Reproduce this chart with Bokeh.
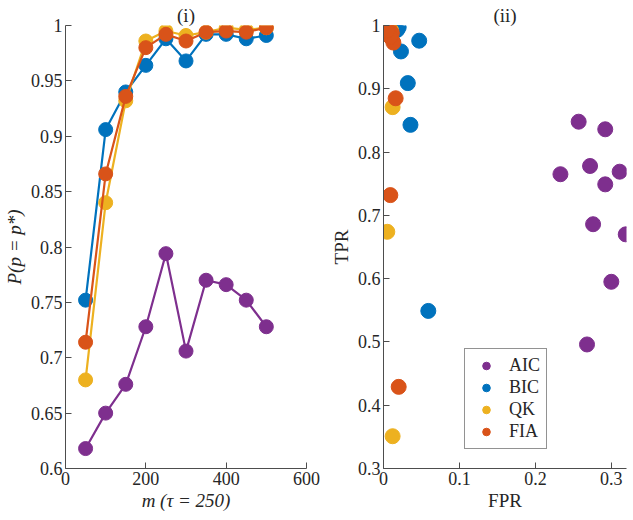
from bokeh.plotting import figure
from bokeh.layouts import row
from bokeh.models import (FixedTicker, CustomJSTickFormatter, Legend,
                          LegendItem, Range1d)
from bokeh.embed import file_html
from bokeh.resources import INLINE

# ---------------- data ----------------
methods = ["AIC", "BIC", "QK", "FIA"]
colors = ["#7E2F8E", "#0072BD", "#EDB120", "#D95319"]

m_values = [50, 100, 150, 200, 250, 300, 350, 400, 450, 500]
p_aic = [0.618, 0.650, 0.676, 0.728, 0.794, 0.706, 0.770, 0.766, 0.752, 0.728]
p_bic = [0.752, 0.906, 0.940, 0.964, 0.988, 0.968, 0.992, 0.992, 0.988, 0.991]
p_qk = [0.680, 0.840, 0.932, 0.986, 0.995, 0.991, 0.994, 0.998, 0.996, 0.998]
p_fia = [0.714, 0.866, 0.936, 0.980, 0.992, 0.986, 0.994, 0.995, 0.994, 0.998]

fpr_aic = [0.257, 0.292, 0.272, 0.233, 0.311, 0.292, 0.276, 0.319, 0.300, 0.268]
tpr_aic = [0.848, 0.836, 0.778, 0.765, 0.769, 0.749, 0.686, 0.670, 0.595, 0.496]
fpr_bic = [0.020, 0.012, 0.023, 0.047, 0.032, 0.0355, 0.059, 0.015, 0.008, 0.018]
tpr_bic = [0.997, 1.000, 0.959, 0.976, 0.909, 0.843, 0.549, 0.995, 0.998, 0.993]
fpr_qk = [0.012, 0.005, 0.012, 0.002, 0.004, 0.006, 0.008, 0.003, 0.010, 0.007]
tpr_qk = [0.871, 0.674, 0.351, 0.990, 0.998, 1.000, 0.996, 0.994, 0.992, 0.999]
fpr_fia = [0.016, 0.009, 0.020, 0.007, 0.001, 0.013, 0.011, 0.004, 0.009, 0.005]
tpr_fia = [0.885, 0.732, 0.429, 1.000, 0.988, 0.973, 0.988, 0.997, 0.982, 0.992]

left_xticks = [0, 200, 400, 600]
left_yticks = [0.6, 0.65, 0.7, 0.75, 0.8, 0.85, 0.9, 0.95, 1.0]
right_xticks = [0, 0.1, 0.2, 0.3]
right_yticks = [0.3, 0.4, 0.5, 0.6, 0.7, 0.8, 0.9, 1.0]

FONT = "Liberation Serif"
AXIS_COLOR = "#4d4d4d"
TEXT_COLOR = "#262626"
fmt = CustomJSTickFormatter(code="""
    var s = tick.toFixed(2);
    s = s.replace(/0+$/, '').replace(/\\.$/, '');
    return s;
""")


def style(p, title):
    p.xgrid.visible = False
    p.ygrid.visible = False
    p.outline_line_color = None
    p.title.text = title
    p.title.align = "center"
    p.title.text_font = FONT
    p.title.text_font_size = "19px"
    p.title.text_font_style = "normal"
    p.title.text_color = TEXT_COLOR
    p.title.standoff = 0
    p.title.offset = 0
    for ax in (p.xaxis[0], p.yaxis[0]):
        ax.axis_line_color = AXIS_COLOR
        ax.major_tick_line_color = AXIS_COLOR
        ax.major_tick_in = 6
        ax.major_tick_out = 0
        ax.minor_tick_line_color = None
        ax.major_label_text_font = FONT
        ax.major_label_text_font_size = "18px"
        ax.major_label_text_color = TEXT_COLOR
        ax.axis_label_text_font = FONT
        ax.axis_label_text_font_size = "19px"
        ax.axis_label_text_color = TEXT_COLOR
        ax.axis_label_text_font_style = "normal"
        ax.major_label_standoff = 3
        ax.formatter = fmt
    p.yaxis[0].axis_label_standoff = 3
    p.xaxis[0].axis_label_standoff = 2


H = 518

# ---------------- left panel ----------------
p1 = figure(width=325, height=H, output_backend="svg", toolbar_location=None,
            x_range=Range1d(0, 600), y_range=Range1d(0.6, 1.0),
            min_border_left=64, min_border_right=19, min_border_top=25,
            min_border_bottom=50)
style(p1, "(i)")
p1.xaxis[0].ticker = FixedTicker(ticks=left_xticks)
p1.yaxis[0].ticker = FixedTicker(ticks=left_yticks)
p1.xaxis[0].axis_label = "m (τ = 250)"
p1.yaxis[0].axis_label = "P(p = p*)"
p1.xaxis[0].axis_label_text_font_style = "italic"
p1.yaxis[0].axis_label_text_font_style = "italic"

for ys, c in zip([p_aic, p_bic, p_qk, p_fia], colors):
    p1.line(m_values, ys, line_color=c, line_width=2.2)
    p1.scatter(m_values, ys, size=14, fill_color=c, line_color=c)

# ---------------- right panel ----------------
p2 = figure(width=306, height=H, output_backend="svg", toolbar_location=None,
            x_range=Range1d(0, 0.32), y_range=Range1d(0.3, 1.0),
            min_border_left=58, min_border_right=5, min_border_top=25,
            min_border_bottom=50)
style(p2, "(ii)")
p2.xaxis[0].ticker = FixedTicker(ticks=right_xticks)
p2.yaxis[0].ticker = FixedTicker(ticks=right_yticks)
p2.xaxis[0].axis_label = "FPR"
p2.yaxis[0].axis_label = "TPR"

items = []
for name, xs, ys, c in zip(methods, [fpr_aic, fpr_bic, fpr_qk, fpr_fia],
                           [tpr_aic, tpr_bic, tpr_qk, tpr_fia], colors):
    r = p2.scatter(xs, ys, size=15, fill_color=c, line_color=c)
    items.append(LegendItem(label=name, renderers=[r]))

legend = Legend(items=items, location=(81, 19), label_text_font=FONT,
                label_text_font_size="18px", label_text_color=TEXT_COLOR,
                glyph_width=30, glyph_height=19, label_height=19,
                spacing=1, padding=6, margin=0, label_standoff=8,
                border_line_color=TEXT_COLOR, border_line_width=1,
                background_fill_alpha=1)
p2.add_layout(legend, "center")

layout = row(p1, p2)
open("out.html", "w").write(file_html(layout, INLINE))
